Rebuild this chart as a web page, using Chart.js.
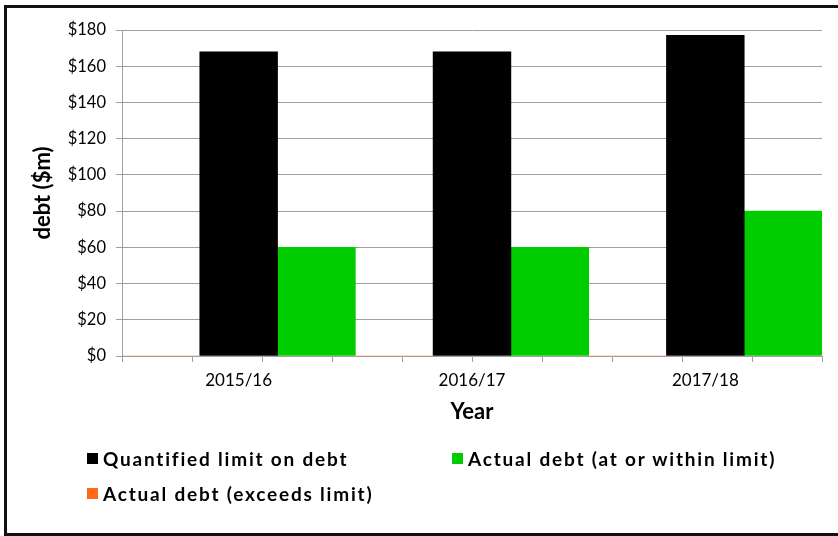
<!DOCTYPE html>
<html>
<head>
<meta charset="utf-8">
<script src="https://cdn.jsdelivr.net/npm/chart.js@4"></script>
<style>
  html, body { margin: 0; padding: 0; background: #fff; overflow: hidden; }
  #wrap { position: relative; width: 838px; height: 536px; }
  #c { position: absolute; left: 0; top: 0; }
  #frame { position: absolute; left: 4px; top: 5px; width: 900px; height: 531px;
           box-sizing: border-box; border: 3px solid #111; pointer-events: none; }
  #legend { position: absolute; left: 0; top: 0; width: 838px; height: 536px; pointer-events: none;
            font-family: Lato, "Open Sans", sans-serif; font-weight: bold; font-size: 19px;
            letter-spacing: 1.8px; color: #000; }
  .item { position: absolute; display: flex; align-items: center; white-space: nowrap; height: 24px; }
  .box { width: 11px; height: 11px; margin-right: 5px; flex: none; }
</style>
</head>
<body>
<div id="wrap">
  <canvas id="c" width="838" height="536"></canvas>
  <div id="legend"></div>
  <div id="frame"></div>
</div>
<script>
// ---- data ----
const categories = ['2015/16', '2016/17', '2017/18'];
const limitValues = [168, 168, 177];
const withinValues = [60, 60, 80];
const exceedsValues = [0, 0, 0];
const seriesNames = ['Quantified limit on debt', 'Actual debt (at or within limit)', 'Actual debt (exceeds limit)'];
const yAxisTitle = 'debt ($m)';
const xAxisTitle = 'Year';
const yMin = 0, yMax = 180, yStep = 20;

// ---- styles ----
const COL_LIMIT = '#000000';
const COL_WITHIN = '#00CC00';
const COL_EXCEEDS = '#FF6A13';
const GRID = '#A0A0A0';
const FONT = 'Lato, "Open Sans", sans-serif';

const ctx = document.getElementById('c').getContext('2d');
new Chart(ctx, {
  type: 'bar',
  data: {
    labels: categories,
    datasets: [
      { label: seriesNames[2], data: exceedsValues, backgroundColor: COL_EXCEEDS, xAxisID: 'x' },
      { label: seriesNames[0], data: limitValues, backgroundColor: COL_LIMIT, xAxisID: 'x' },
      { label: seriesNames[1], data: withinValues, backgroundColor: COL_WITHIN, xAxisID: 'x' }
    ]
  },
  options: {
    responsive: false,
    animation: false,
    devicePixelRatio: 1,
    layout: { padding: { left: 8, right: 16, top: 30, bottom: 100 } },
    datasets: { bar: { categoryPercentage: 1.0, barPercentage: 1.0, borderWidth: 0 } },
    plugins: { legend: { display: false }, tooltip: { enabled: false } },
    scales: {
      xMinor: {
        type: 'linear', position: 'bottom', weight: 0,
        min: 0, max: 9,
        ticks: { display: false, stepSize: 1 },
        grid: { drawOnChartArea: false, drawTicks: true, tickLength: 6, color: GRID, lineWidth: 1 },
        border: { display: true, color: GRID, width: 1 },
        afterFit: s => { s.height = 6; }
      },
      x: {
        type: 'category', position: 'bottom', weight: 1,
        grid: { display: false, drawTicks: false },
        border: { display: false },
        ticks: { color: '#000', padding: 8, font: { family: FONT, size: 17 }, maxRotation: 0 },
        title: { display: true, text: xAxisTitle, color: '#000',
                 font: { family: FONT, size: 22, weight: 'bold' }, padding: { top: 4, bottom: 11 } },
        afterFit: s => { s.height = 74; }
      },
      y: {
        min: yMin, max: yMax,
        ticks: { stepSize: yStep, color: '#000', padding: 10, font: { family: FONT, size: 16.5 },
                 callback: v => '$' + v },
        grid: { color: GRID, lineWidth: 1, tickLength: 6 },
        border: { display: true, color: GRID, width: 1 },
        title: { display: true, text: yAxisTitle, color: '#000',
                 font: { family: FONT, size: 22, weight: 'bold' }, padding: { top: 22, bottom: 0 } },
        afterFit: s => { s.width = 114; }
      }
    }
  }
});

// ---- legend (HTML, real text) ----
const legendItems = [
  { name: seriesNames[0], color: COL_LIMIT, left: 87, top: 446 },
  { name: seriesNames[1], color: COL_WITHIN, left: 452, top: 446 },
  { name: seriesNames[2], color: COL_EXCEEDS, left: 87, top: 481 }
];
const lg = document.getElementById('legend');
legendItems.forEach(it => {
  const d = document.createElement('div');
  d.className = 'item';
  d.style.left = it.left + 'px';
  d.style.top = it.top + 'px';
  const b = document.createElement('span');
  b.className = 'box';
  b.style.background = it.color;
  const t = document.createElement('span');
  t.textContent = it.name;
  d.appendChild(b); d.appendChild(t);
  lg.appendChild(d);
});
</script>
</body>
</html>
